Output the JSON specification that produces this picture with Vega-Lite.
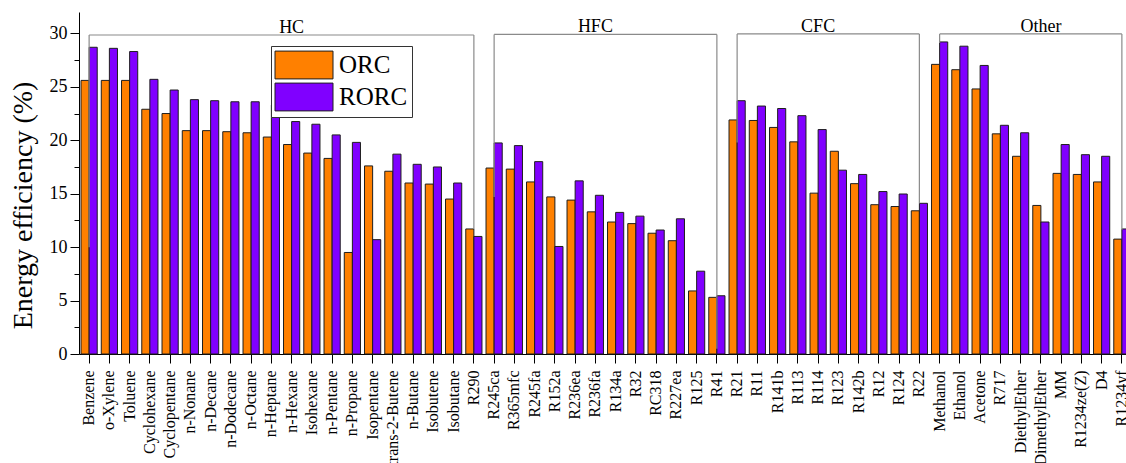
{
  "$schema": "https://vega.github.io/schema/vega-lite/v6.json",
  "autosize": {"type": "none"},
  "width": 1047,
  "height": 342,
  "padding": {"left": 79, "top": 12, "right": 0, "bottom": 109},
  "background": "white",
  "config": {
    "font": "Liberation Serif",
    "view": {"stroke": null},
    "axis": {"grid": false, "domainColor": "#000", "tickColor": "#000", "labelColor": "#000", "titleColor": "#000", "labelFont": "Liberation Serif", "titleFont": "Liberation Serif"}
  },
  "datasets": {
    "efficiency": [
      {"refrigerant": "Benzene", "ORC": 25.6, "RORC": 28.7},
      {"refrigerant": "o-Xylene", "ORC": 25.6, "RORC": 28.6},
      {"refrigerant": "Toluene", "ORC": 25.6, "RORC": 28.3},
      {"refrigerant": "Cyclohexane", "ORC": 22.9, "RORC": 25.7},
      {"refrigerant": "Cyclopentane", "ORC": 22.5, "RORC": 24.7},
      {"refrigerant": "n-Nonane", "ORC": 20.9, "RORC": 23.8},
      {"refrigerant": "n-Decane", "ORC": 20.9, "RORC": 23.7},
      {"refrigerant": "n-Dodecane", "ORC": 20.8, "RORC": 23.6},
      {"refrigerant": "n-Octane", "ORC": 20.7, "RORC": 23.6},
      {"refrigerant": "n-Heptane", "ORC": 20.3, "RORC": 23.3},
      {"refrigerant": "n-Hexane", "ORC": 19.6, "RORC": 21.75},
      {"refrigerant": "Isohexane", "ORC": 18.8, "RORC": 21.5},
      {"refrigerant": "n-Pentane", "ORC": 18.3, "RORC": 20.5},
      {"refrigerant": "n-Propane", "ORC": 9.5, "RORC": 19.8},
      {"refrigerant": "Isopentane", "ORC": 17.6, "RORC": 10.7},
      {"refrigerant": "trans-2-Butene", "ORC": 17.1, "RORC": 18.7},
      {"refrigerant": "n-Butane", "ORC": 16.0, "RORC": 17.75},
      {"refrigerant": "Isobutene", "ORC": 15.9, "RORC": 17.5},
      {"refrigerant": "Isobutane", "ORC": 14.5, "RORC": 16.0},
      {"refrigerant": "R290", "ORC": 11.7, "RORC": 11.0},
      {"refrigerant": "R245ca", "ORC": 17.4, "RORC": 19.75},
      {"refrigerant": "R365mfc", "ORC": 17.3, "RORC": 19.5},
      {"refrigerant": "R245fa", "ORC": 16.1, "RORC": 18.0},
      {"refrigerant": "R152a", "ORC": 14.7, "RORC": 10.06},
      {"refrigerant": "R236ea", "ORC": 14.4, "RORC": 16.2},
      {"refrigerant": "R236fa", "ORC": 13.3, "RORC": 14.85},
      {"refrigerant": "R134a", "ORC": 12.35, "RORC": 13.25},
      {"refrigerant": "R32", "ORC": 12.2, "RORC": 12.9},
      {"refrigerant": "RC318", "ORC": 11.3, "RORC": 11.6},
      {"refrigerant": "R227ea", "ORC": 10.6, "RORC": 12.65},
      {"refrigerant": "R125", "ORC": 5.9, "RORC": 7.75},
      {"refrigerant": "R41", "ORC": 5.3, "RORC": 5.45},
      {"refrigerant": "R21", "ORC": 21.9, "RORC": 23.7},
      {"refrigerant": "R11", "ORC": 21.85, "RORC": 23.2},
      {"refrigerant": "R141b", "ORC": 21.2, "RORC": 22.97},
      {"refrigerant": "R113", "ORC": 19.85, "RORC": 22.3},
      {"refrigerant": "R114", "ORC": 15.05, "RORC": 21.0},
      {"refrigerant": "R123", "ORC": 18.97, "RORC": 17.2},
      {"refrigerant": "R142b", "ORC": 15.94, "RORC": 16.8},
      {"refrigerant": "R12", "ORC": 13.97, "RORC": 15.2},
      {"refrigerant": "R124", "ORC": 13.8, "RORC": 14.97},
      {"refrigerant": "R22", "ORC": 13.4, "RORC": 14.1},
      {"refrigerant": "Methanol", "ORC": 27.1, "RORC": 29.2},
      {"refrigerant": "Ethanol", "ORC": 26.6, "RORC": 28.8},
      {"refrigerant": "Acetone", "ORC": 24.8, "RORC": 27.0},
      {"refrigerant": "R717", "ORC": 20.6, "RORC": 21.4},
      {"refrigerant": "DiethylEther", "ORC": 18.5, "RORC": 20.7},
      {"refrigerant": "DimethylEther", "ORC": 13.9, "RORC": 12.35},
      {"refrigerant": "MM", "ORC": 16.9, "RORC": 19.6},
      {"refrigerant": "R1234ze(Z)", "ORC": 16.8, "RORC": 18.65},
      {"refrigerant": "D4", "ORC": 16.1, "RORC": 18.5},
      {"refrigerant": "R1234yf", "ORC": 10.75, "RORC": 11.7}
    ],
    "groups": [
      {"group": "HC", "first": "Benzene", "last": "R290", "labelAt": "n-Hexane", "top": 29.85, "leftEnd": 10.0, "rightEnd": 11.7},
      {"group": "HFC", "first": "R245ca", "last": "R41", "labelAt": "R236fa", "top": 29.9, "leftEnd": 14.7, "rightEnd": 0.5},
      {"group": "CFC", "first": "R21", "last": "R22", "labelAt": "R114", "top": 29.95, "leftEnd": 19.8, "rightEnd": 14.1},
      {"group": "Other", "first": "Methanol", "last": "R1234yf", "labelAt": "DimethylEther", "top": 29.95, "leftEnd": 29.1, "rightEnd": 11.6}
    ]
  },
  "resolve": {"axis": {"y": "independent"}},
  "layer": [
    {
      "data": {"name": "efficiency"},
      "transform": [{"fold": ["ORC", "RORC"], "as": ["cycle", "efficiency"]}],
      "mark": {"type": "bar", "stroke": "#1e1e1e", "strokeWidth": 1},
      "encoding": {
        "x": {
          "field": "refrigerant", "type": "nominal",
          "scale": {
            "domain": ["Benzene", "o-Xylene", "Toluene", "Cyclohexane", "Cyclopentane", "n-Nonane", "n-Decane", "n-Dodecane", "n-Octane", "n-Heptane", "n-Hexane", "Isohexane", "n-Pentane", "n-Propane", "Isopentane", "trans-2-Butene", "n-Butane", "Isobutene", "Isobutane", "R290", "R245ca", "R365mfc", "R245fa", "R152a", "R236ea", "R236fa", "R134a", "R32", "RC318", "R227ea", "R125", "R41", "R21", "R11", "R141b", "R113", "R114", "R123", "R142b", "R12", "R124", "R22", "Methanol", "Ethanol", "Acetone", "R717", "DiethylEther", "DimethylEther", "MM", "R1234ze(Z)", "D4", "R1234yf"],
            "range": [0, 1053],
            "paddingInner": 0.2,
            "paddingOuter": 0.1
          },
          "axis": {"title": null, "labelAngle": -90, "labelFontSize": 16, "labelPadding": 7, "tickSize": 9, "labelOverlap": false, "labelLimit": 200}
        },
        "xOffset": {"field": "cycle", "type": "nominal", "scale": {"paddingInner": 0, "paddingOuter": 0}},
        "y": {
          "field": "efficiency", "type": "quantitative",
          "scale": {"domain": [0, 32], "nice": false},
          "axis": {"orient": "left", "title": "Energy efficiency (%)", "titleFontSize": 28, "titleFontWeight": "normal", "titlePadding": 12, "titleY": 193, "values": [0, 5, 10, 15, 20, 25, 30], "labelFontSize": 18, "labelPadding": 3, "tickSize": 9}
        },
        "color": {
          "field": "cycle", "type": "nominal",
          "scale": {"domain": ["ORC", "RORC"], "range": ["#FF8000", "#8000FF"]},
          "legend": {
            "title": null, "orient": "none", "legendX": 192, "legendY": 34,
            "symbolType": "M-2,-0.96H2V0.96H-2Z", "symbolSize": 841, "symbolOffset": 14,
            "symbolStrokeColor": "#1e1e1e", "symbolStrokeWidth": 1, "symbolOpacity": 1,
            "labelFontSize": 25, "labelFont": "Liberation Serif", "labelColor": "#000", "labelOffset": 20,
            "strokeColor": "#333", "fillColor": "white", "padding": 4, "rowPadding": 0
          }
        }
      }
    },
    {
      "data": {"name": "groups"},
      "mark": {"type": "rule", "color": "#8a8a8a", "strokeWidth": 1.2},
      "encoding": {
        "x": {"field": "first", "type": "nominal"},
        "x2": {"field": "last"},
        "y": {"field": "top", "type": "quantitative", "scale": {"domain": [0, 32], "nice": false}, "axis": null}
      }
    },
    {
      "data": {"name": "groups"},
      "mark": {"type": "rule", "color": "#8a8a8a", "strokeWidth": 1.2},
      "encoding": {
        "x": {"field": "first", "type": "nominal"},
        "y": {"field": "top", "type": "quantitative", "scale": {"domain": [0, 32], "nice": false}, "axis": null},
        "y2": {"field": "leftEnd"}
      }
    },
    {
      "data": {"name": "groups"},
      "mark": {"type": "rule", "color": "#8a8a8a", "strokeWidth": 1.2},
      "encoding": {
        "x": {"field": "last", "type": "nominal"},
        "y": {"field": "top", "type": "quantitative", "scale": {"domain": [0, 32], "nice": false}, "axis": null},
        "y2": {"field": "rightEnd"}
      }
    },
    {
      "data": {"name": "groups"},
      "mark": {"type": "text", "font": "Liberation Serif", "fontSize": 18, "color": "#000", "baseline": "alphabetic", "dy": -2},
      "encoding": {
        "x": {"field": "labelAt", "type": "nominal"},
        "y": {"field": "top", "type": "quantitative", "scale": {"domain": [0, 32], "nice": false}, "axis": null},
        "text": {"field": "group"}
      }
    },
    {
      "mark": {"type": "rule", "color": "#000", "strokeWidth": 1.5},
      "encoding": {
        "y": {
          "datum": 32, "type": "quantitative",
          "scale": {"domain": [0, 32], "nice": false},
          "axis": {"orient": "left", "title": null, "labels": false, "domain": false, "values": [2.5, 7.5, 12.5, 17.5, 22.5, 27.5], "tickSize": 5}
        }
      }
    }
  ]
}
